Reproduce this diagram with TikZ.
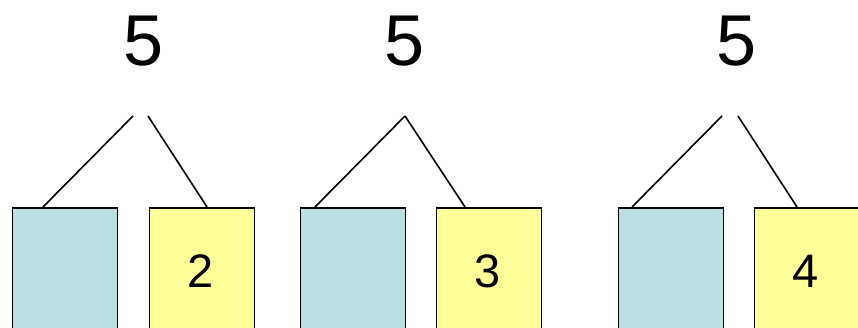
\documentclass[tikz,border=0pt]{standalone}
\usepackage{fontspec}
\setmainfont{Liberation Sans}
\definecolor{boxblue}{HTML}{BBE0E3}
\definecolor{boxyellow}{HTML}{FFFF99}
\begin{document}
\begin{tikzpicture}[x=1pt,y=-1pt,
  bbox/.style={draw=black,line width=1.9pt,fill=boxblue,minimum width=105pt,minimum height=150pt,inner sep=0pt,anchor=north west},
  ybox/.style={draw=black,line width=1.9pt,fill=boxyellow,minimum width=105pt,minimum height=150pt,inner sep=0pt,anchor=north west},
  big/.style={font=\fontsize{72pt}{80pt}\selectfont,inner sep=0pt,anchor=base},
  num/.style={font=\fontsize{47pt}{52pt}\selectfont,inner sep=0pt,anchor=base},
  conn/.style={line width=1.6pt,black}]
\useasboundingbox (0,0) rectangle (858,327);
\clip (0,0) rectangle (858,327);
% group 1
\node[big] (t1) at (144,65) {5};
\node[bbox] (b1) at (11.5,207) {};
\node[ybox] (y1) at (148.5,207) {};
\node[num] (n1) at (201,287) {2};
\coordinate (a1l) at (133,116);
\coordinate (a1r) at (148,116);
\draw[conn] (a1l) -- ([xshift=31.5pt]b1.north west);
\draw[conn] (a1r) -- ([xshift=58.5pt]y1.north west);
% group 2
\node[big] (t2) at (405,65) {5};
\node[bbox] (b2) at (299.5,207) {};
\node[ybox] (y2) at (435.5,207) {};
\node[num] (n2) at (488,287) {3};
\coordinate (a2) at (405,116);
\draw[conn] (a2) -- ([xshift=15.5pt]b2.north west);
\draw[conn] (a2) -- ([xshift=29.5pt]y2.north west);
% group 3
\node[big] (t3) at (737,65) {5};
\node[bbox] (b3) at (617.5,207) {};
\node[ybox] (y3) at (753.5,207) {};
\node[num] (n3) at (806,287) {4};
\coordinate (a3l) at (722,116);
\coordinate (a3r) at (738,116);
\draw[conn] (a3l) -- ([xshift=14.5pt]b3.north west);
\draw[conn] (a3r) -- ([xshift=43.5pt]y3.north west);
\end{tikzpicture}
\end{document}
